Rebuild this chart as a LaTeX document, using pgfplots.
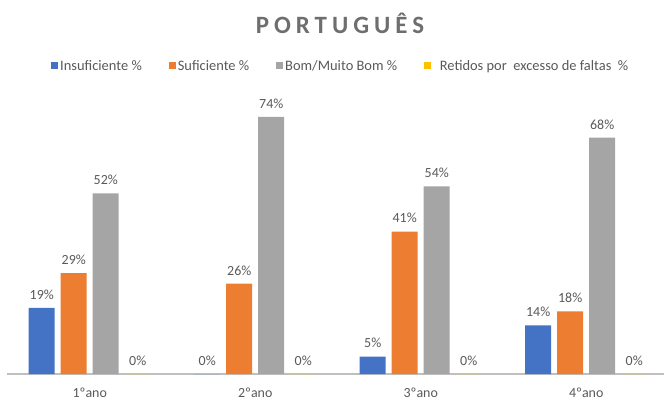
\documentclass[border=0pt]{standalone}
\usepackage{fontspec}
\setmainfont{Carlito}
\newfontfamily\titlefont[LetterSpace=20]{Carlito}
\usepackage{pgfplots}
\pgfplotsset{compat=1.18}
\definecolor{cblue}{HTML}{4472C4}
\definecolor{corange}{HTML}{ED7D31}
\definecolor{cgray}{HTML}{A5A5A5}
\definecolor{cyellow}{HTML}{FFC000}
\definecolor{tgray}{HTML}{595959}
\definecolor{titlegray}{HTML}{6E6E6E}
\definecolor{axisgray}{HTML}{BFBFBF}
\begin{document}
\begin{tikzpicture}
\begin{axis}[
  scale only axis, width=657bp, height=278bp,
  xmin=-0.5, xmax=3.47, ymin=0, ymax=80,
  ybar=6bp, bar width=26bp,
  axis y line=none, axis x line*=bottom,
  x axis line style={draw=axisgray, line width=1.3bp},
  xtick={0,1,2,3}, xticklabels={1ºano,2ºano,3ºano,4ºano},
  major tick length=0pt,
  xticklabel style={font=\fontsize{14}{16}\selectfont, text=tgray, yshift=-10bp},
  nodes near coords={\pgfmathprintnumber{\pgfplotspointmeta}\%},
  every node near coord/.append style={font=\fontsize{14}{16}\selectfont, text=tgray, yshift=5bp},
  /pgf/number format/assume math mode=true,
  legend columns=4,
  legend style={at={(0.508,1.108)}, anchor=center, draw=none, fill=none,
    font=\fontsize{14.5}{16}\selectfont, text=tgray,
    /tikz/every even column/.append style={column sep=25bp}},
  legend image code/.code={\fill[#1] (0bp,-3.5bp) rectangle (7bp,3.5bp);},
  clip=false,
]
\addplot[fill=cblue, draw=none] coordinates {(0,19) (1,0) (2,5) (3,14)};
\addplot[fill=corange, draw=none] coordinates {(0,29) (1,26) (2,41) (3,18)};
\addplot[fill=cgray, draw=none] coordinates {(0,52) (1,74) (2,54) (3,68)};
\addplot[fill=cyellow, draw=none] coordinates {(0,0) (1,0) (2,0) (3,0)};
\legend{Insuficiente \%, Suficiente \%, Bom/Muito Bom \%, \ \ Retidos por\ \ excesso de faltas\ \ \%}
\end{axis}
\node[text=titlegray, font=\titlefont\bfseries\fontsize{25}{29}\selectfont] at (333bp,351bp) {PORTUGUÊS};
\pgfresetboundingbox
\path[use as bounding box] (-7bp,-29bp) rectangle (657bp,374bp);
\end{tikzpicture}
\end{document}
